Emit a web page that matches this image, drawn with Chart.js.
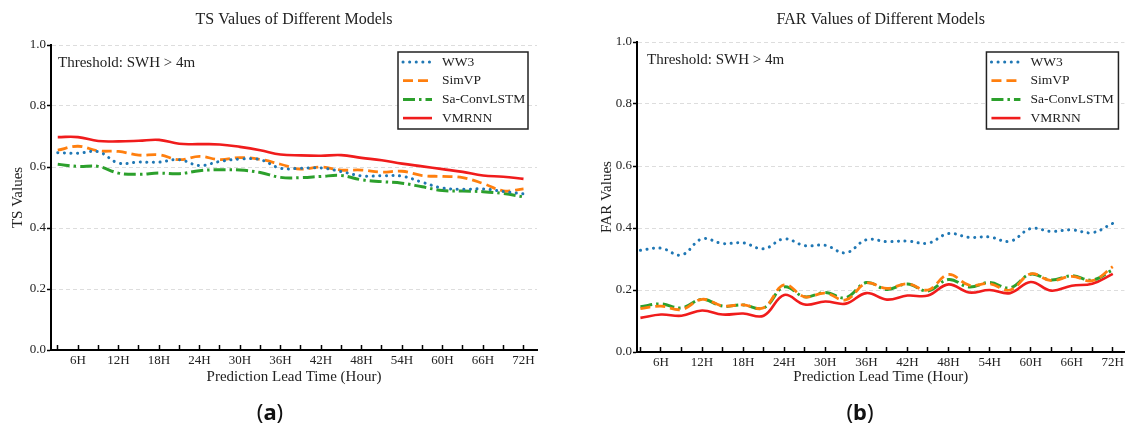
<!DOCTYPE html>
<html>
<head>
<meta charset="utf-8">
<script src="https://cdn.jsdelivr.net/npm/chart.js@4.4.1/dist/chart.umd.min.js"></script>
<style>
  html, body { margin: 0; padding: 0; background: #fff; }
  #wrap { position: relative; width: 1132px; height: 429px; overflow: hidden; }
  .panel { position: absolute; top: 0; width: 566px; height: 429px; }
  .tag { position: absolute; top: 396px; width: 60px; text-align: center; font: 22px "Noto Sans", sans-serif; color: #111; }
  .tag b { font-weight: 700; }
</style>
</head>
<body>
<div id="wrap">
  <div class="panel" style="left:0"><canvas id="tsChart" width="566" height="429"></canvas></div>
  <div class="panel" style="left:566px"><canvas id="farChart" width="566" height="429"></canvas></div>
  <div class="tag" style="left:240px">(<b>a</b>)</div>
  <div class="tag" style="left:830px">(<b>b</b>)</div>
</div>
<script>
// lead times (hours) and axis ticks
const hours = [3, 6, 9, 12, 15, 18, 21, 24, 27, 30, 33, 36, 39, 42, 45, 48, 51, 54, 57, 60, 63, 66, 69, 72];
const yTicks = [0, 0.2, 0.4, 0.6, 0.8, 1.0];
const models = ['WW3', 'SimVP', 'Sa-ConvLSTM', 'VMRNN'];

// TS values
const tsWW3    = [0.647, 0.645, 0.650, 0.613, 0.616, 0.616, 0.624, 0.605, 0.618, 0.626, 0.624, 0.596, 0.596, 0.597, 0.585, 0.571, 0.571, 0.570, 0.550, 0.531, 0.527, 0.528, 0.520, 0.512];
const tsSimVP  = [0.655, 0.668, 0.653, 0.651, 0.639, 0.640, 0.624, 0.635, 0.624, 0.631, 0.625, 0.609, 0.593, 0.600, 0.590, 0.590, 0.583, 0.586, 0.572, 0.569, 0.565, 0.546, 0.522, 0.528];
const tsSaConv = [0.609, 0.602, 0.602, 0.580, 0.576, 0.580, 0.578, 0.588, 0.591, 0.590, 0.582, 0.566, 0.565, 0.569, 0.572, 0.558, 0.552, 0.547, 0.535, 0.523, 0.521, 0.519, 0.513, 0.502];
const tsVMRNN  = [0.698, 0.698, 0.685, 0.684, 0.686, 0.689, 0.676, 0.675, 0.674, 0.666, 0.655, 0.641, 0.638, 0.637, 0.639, 0.630, 0.622, 0.611, 0.602, 0.593, 0.584, 0.572, 0.568, 0.561];

// FAR values
const farWW3    = [0.328, 0.335, 0.313, 0.365, 0.350, 0.352, 0.333, 0.365, 0.343, 0.344, 0.320, 0.362, 0.356, 0.358, 0.351, 0.382, 0.370, 0.371, 0.357, 0.398, 0.389, 0.394, 0.385, 0.415];
const farSimVP  = [0.140, 0.148, 0.137, 0.170, 0.149, 0.152, 0.143, 0.217, 0.178, 0.190, 0.168, 0.222, 0.205, 0.220, 0.200, 0.250, 0.216, 0.220, 0.200, 0.252, 0.230, 0.244, 0.230, 0.275];
const farSaConv = [0.146, 0.155, 0.142, 0.170, 0.148, 0.152, 0.142, 0.210, 0.178, 0.192, 0.175, 0.224, 0.202, 0.219, 0.197, 0.234, 0.210, 0.224, 0.207, 0.251, 0.232, 0.246, 0.232, 0.265];
const farVMRNN  = [0.110, 0.121, 0.117, 0.134, 0.121, 0.124, 0.117, 0.184, 0.153, 0.163, 0.156, 0.190, 0.169, 0.182, 0.182, 0.218, 0.192, 0.200, 0.190, 0.226, 0.198, 0.214, 0.220, 0.252];

const lineStyles = [
  { color: '#1f77b4', width: 3, dash: [0.1, 6.5], cap: 'round' },
  { color: '#ff7f0e', width: 2.8, dash: [10, 5], cap: 'butt' },
  { color: '#2ca02c', width: 3, dash: [12, 4, 2.5, 4], cap: 'butt' },
  { color: '#f01c1c', width: 2.6, dash: [], cap: 'butt' }
];

const serif = '"Liberation Serif", "Times New Roman", serif';

function makeDatasets(series) {
  return series.map((vals, i) => ({
    label: models[i],
    data: hours.map((h, j) => ({ x: h, y: vals[j] })),
    borderColor: lineStyles[i].color,
    borderWidth: lineStyles[i].width,
    borderDash: lineStyles[i].dash,
    borderCapStyle: lineStyles[i].cap,
    pointRadius: 0,
    tension: 0.4,
    fill: false
  }));
}

// title, threshold note and framed legend drawn inside the plot
const panelText = {
  id: 'panelText',
  afterDatasetsDraw(chart, args, o) {
    const { ctx, chartArea: a } = chart;
    ctx.save();
    ctx.fillStyle = '#222';
    ctx.textBaseline = 'middle';
    ctx.textAlign = 'center';
    ctx.font = '16px ' + serif;
    ctx.fillText(o.title, (a.left + a.right) / 2, o.titleY);
    ctx.textAlign = 'left';
    ctx.font = '15px ' + serif;
    ctx.fillText('Threshold: SWH > 4m', a.left + o.noteDx, a.top + 18);

    const b = o.box;
    const x0 = a.right - b.dx - b.w, y0 = a.top + b.dy;
    ctx.fillStyle = '#fff';
    ctx.fillRect(x0, y0, b.w, b.h);
    ctx.strokeStyle = '#222';
    ctx.lineWidth = 1.5;
    ctx.strokeRect(x0, y0, b.w, b.h);
    chart.data.datasets.forEach((ds, i) => {
      const y = y0 + b.first + i * b.row;
      ctx.save();
      ctx.strokeStyle = ds.borderColor;
      ctx.lineWidth = ds.borderWidth;
      ctx.setLineDash(ds.borderDash);
      ctx.lineCap = ds.borderCapStyle;
      ctx.beginPath();
      ctx.moveTo(x0 + b.lx, y);
      ctx.lineTo(x0 + b.lx + b.lw, y);
      ctx.stroke();
      ctx.restore();
      ctx.fillStyle = '#222';
      ctx.font = '13.5px ' + serif;
      ctx.fillText(ds.label, x0 + b.tx, y);
    });
    ctx.restore();
  }
};

function makeOptions(cfg) {
  return {
    responsive: false,
    animation: false,
    layout: { padding: { left: 0, right: cfg.padRight, top: cfg.top, bottom: 0 } },
    plugins: {
      legend: { display: false },
      tooltip: { enabled: false },
      panelText: cfg.text
    },
    scales: {
      x: {
        type: 'linear', min: cfg.xMin, max: cfg.xMax,
        afterBuildTicks: s => { s.ticks = hours.map(v => ({ value: v })); },
        afterFit: s => { s.height = cfg.xHeight; },
        ticks: {
          autoSkip: false, maxRotation: 0, padding: 8, color: '#222',
          font: { family: serif, size: 13 },
          callback: v => (v % 6 === 0 ? v + 'H' : '')
        },
        grid: { drawOnChartArea: false, tickLength: -5, tickColor: '#000', tickWidth: 1.5 },
        border: { color: '#000', width: 2 },
        title: {
          display: true, text: 'Prediction Lead Time (Hour)', color: '#222',
          font: { family: serif, size: 15 }, padding: { top: 0, bottom: 43 }
        }
      },
      y: {
        min: 0, max: 1,
        afterBuildTicks: s => { s.ticks = yTicks.map(v => ({ value: v })); },
        afterFit: s => { s.width = cfg.yWidth; },
        ticks: { padding: 1, color: '#222', font: { family: serif, size: 13 }, callback: v => v.toFixed(1) },
        grid: {
          color: c => (c.tick && c.tick.value === 0 ? 'rgba(0,0,0,0)' : '#dddddd'),
          lineWidth: 1, tickLength: 4, tickColor: '#000', tickWidth: 1.5
        },
        border: { color: '#000', width: 2, dash: [4, 3] },
        title: {
          display: true, text: cfg.yTitle, color: '#222',
          font: { family: serif, size: 15 }, padding: { top: cfg.yTitlePad, bottom: 0 }
        }
      }
    }
  };
}

new Chart(document.getElementById('tsChart'), {
  type: 'line',
  data: { datasets: makeDatasets([tsWW3, tsSimVP, tsSaConv, tsVMRNN]) },
  options: makeOptions({
    padRight: 29, top: 45, xMin: 2, xMax: 74, xHeight: 79, yWidth: 51,
    yTitle: 'TS Values', yTitlePad: 9,
    text: { title: 'TS Values of Different Models', titleY: 20, noteDx: 7,
      box: { dx: 9, dy: 7, w: 130, h: 77, first: 10, row: 18.7, lx: 5, lw: 29, tx: 44 } }
  }),
  plugins: [panelText]
});

new Chart(document.getElementById('farChart'), {
  type: 'line',
  data: { datasets: makeDatasets([farWW3, farSimVP, farSaConv, farVMRNN]) },
  options: makeOptions({
    padRight: 0, top: 42, xMin: 2.5, xMax: 73.7, xHeight: 77, yWidth: 71,
    yTitle: 'FAR Values', yTitlePad: 32,
    text: { title: 'FAR Values of Different Models', titleY: 20, noteDx: 10,
      box: { dx: 6, dy: 10, w: 132, h: 77, first: 10, row: 18.7, lx: 5, lw: 29, tx: 44 } }
  }),
  plugins: [panelText]
});
</script>
</body>
</html>
